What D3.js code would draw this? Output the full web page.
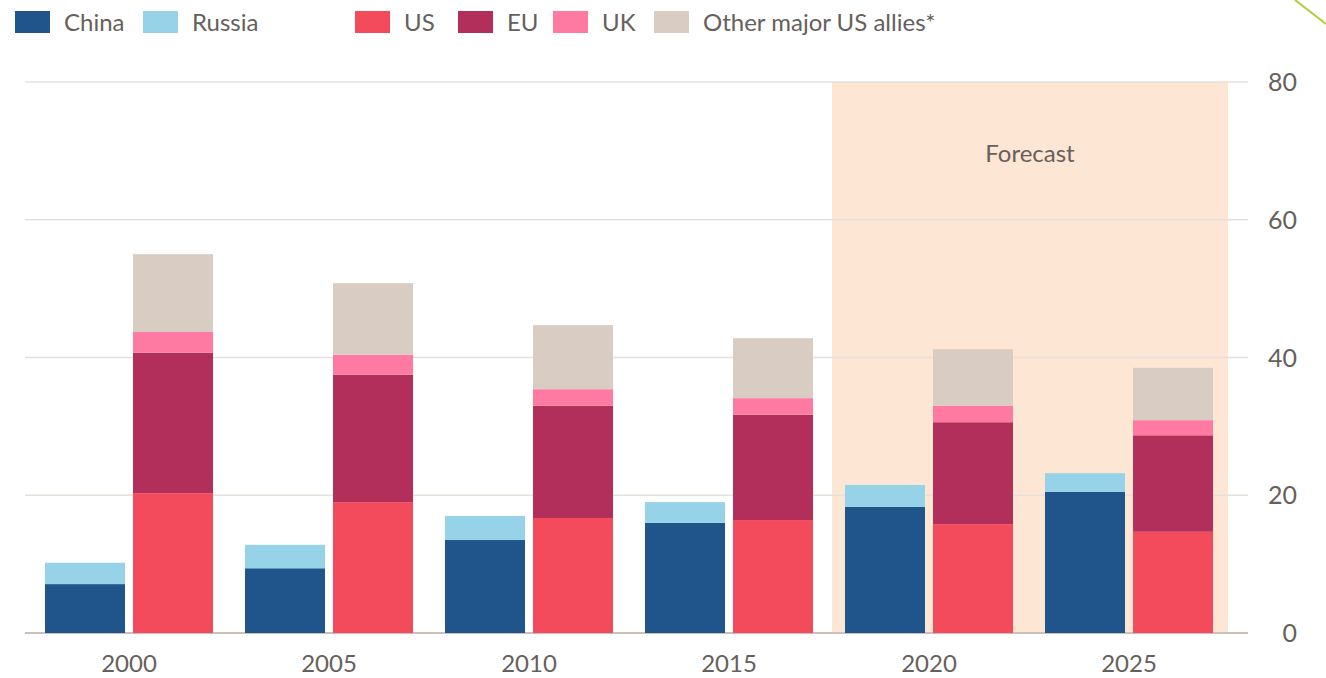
<!DOCTYPE html>
<html>
<head>
<meta charset="utf-8">
<script src="https://cdn.jsdelivr.net/npm/d3@7"></script>
<style>
  body { margin: 0; background: #fff; }
  text { font-family: Lato, "Open Sans", sans-serif; fill: #66605c; }
</style>
</head>
<body>
<div id="chart"></div>
<script>
// Data
const years = ["2000", "2005", "2010", "2015", "2020", "2025"];
const forecastYears = ["2020", "2025"];
const yTicks = [0, 20, 40, 60, 80];

// left bar of each pair
const china  = [7.1, 9.4, 13.5, 16.0, 18.3, 20.5];
const russia = [3.1, 3.4, 3.5, 3.0, 3.2, 2.7];
// right bar of each pair
const us     = [20.3, 19.0, 16.7, 16.4, 15.8, 14.7];
const eu     = [20.4, 18.5, 16.3, 15.3, 14.8, 14.0];
const uk     = [3.0, 2.9, 2.4, 2.4, 2.4, 2.2];
const allies = [11.3, 10.4, 9.3, 8.7, 8.2, 7.6];

const series = [
  { key: "China", values: china, color: "#1f558b", bar: 0 },
  { key: "Russia", values: russia, color: "#96d3e8", bar: 0 },
  { key: "US", values: us, color: "#f34b5c", bar: 1 },
  { key: "EU", values: eu, color: "#b22e5b", bar: 1 },
  { key: "UK", values: uk, color: "#ff7aa2", bar: 1 },
  { key: "Other major US allies*", values: allies, color: "#d9ccc2", bar: 1 }
];

const W = 1326, H = 678;
const margin = { top: 82, right: 78, bottom: 45, left: 25 };
const width = W - margin.left - margin.right;
const height = H - margin.top - margin.bottom;

const svg = d3.select("#chart").append("svg")
  .attr("width", W)
  .attr("height", H);

const g = svg.append("g")
  .attr("transform", `translate(${margin.left},${margin.top})`);

const x = d3.scaleBand().domain(years).range([4, 1204]).paddingInner(0);
const y = d3.scaleLinear().domain([0, 80]).range([height, 0]);

const barW = 80, gap = 8;

// Forecast shading
const fx0 = x(forecastYears[0]) + x.bandwidth() / 2 - barW - gap / 2 - 13;
const fx1 = x(forecastYears[forecastYears.length - 1]) + x.bandwidth() / 2 + barW + gap / 2 + 15;
g.append("rect")
  .attr("x", fx0)
  .attr("y", 0)
  .attr("width", fx1 - fx0)
  .attr("height", height)
  .attr("fill", "#fde6d4");

g.append("text")
  .attr("x", (fx0 + fx1) / 2)
  .attr("y", 80)
  .attr("text-anchor", "middle")
  .style("font-size", "24px")
  .text("Forecast");

// Gridlines and y labels on the right
const gridW = 1223;
g.append("g")
  .selectAll("line")
  .data(yTicks)
  .join("line")
  .attr("x1", 0)
  .attr("x2", gridW)
  .attr("y1", d => y(d))
  .attr("y2", d => y(d))
  .attr("stroke", d => d === 0 ? "#c9c2bb" : "#e6e0da")
  .attr("stroke-width", d => d === 0 ? 2 : 1.5);

g.append("g")
  .selectAll("text")
  .data(yTicks)
  .join("text")
  .attr("x", 1272)
  .attr("y", d => y(d) + 9)
  .attr("text-anchor", "end")
  .style("font-size", "25px")
  .text(d => d);

// Stacked bars
const offsets = years.map(() => [0, 0]);
series.forEach(s => {
  s.values.forEach((v, i) => {
    const base = offsets[i][s.bar];
    const cx = x(years[i]) + x.bandwidth() / 2;
    const bx = s.bar === 0 ? cx - gap / 2 - barW : cx + gap / 2;
    g.append("rect")
      .attr("x", bx)
      .attr("y", y(base + v))
      .attr("width", barW)
      .attr("height", y(base) - y(base + v))
      .attr("fill", s.color);
    offsets[i][s.bar] = base + v;
  });
});

// X labels
g.append("g")
  .selectAll("text")
  .data(years)
  .join("text")
  .attr("x", d => x(d) + x.bandwidth() / 2)
  .attr("y", height + 39)
  .attr("text-anchor", "middle")
  .style("font-size", "24px")
  .text(d => d);

// Legend
const legendPos = [15, 143, 355, 458, 553, 654];
const legend = svg.append("g");
series.forEach((s, i) => {
  legend.append("rect")
    .attr("x", legendPos[i])
    .attr("y", 11)
    .attr("width", 35)
    .attr("height", 22)
    .attr("fill", s.color);
  legend.append("text")
    .attr("x", legendPos[i] + 49)
    .attr("y", 31)
    .style("font-size", "24px")
    .text(s.key);
});

// decorative corner line from the screenshot
svg.append("line")
  .attr("x1", 1295).attr("y1", 0)
  .attr("x2", 1326).attr("y2", 24)
  .attr("stroke", "#b6c83c")
  .attr("stroke-width", 2);
</script>
</body>
</html>
